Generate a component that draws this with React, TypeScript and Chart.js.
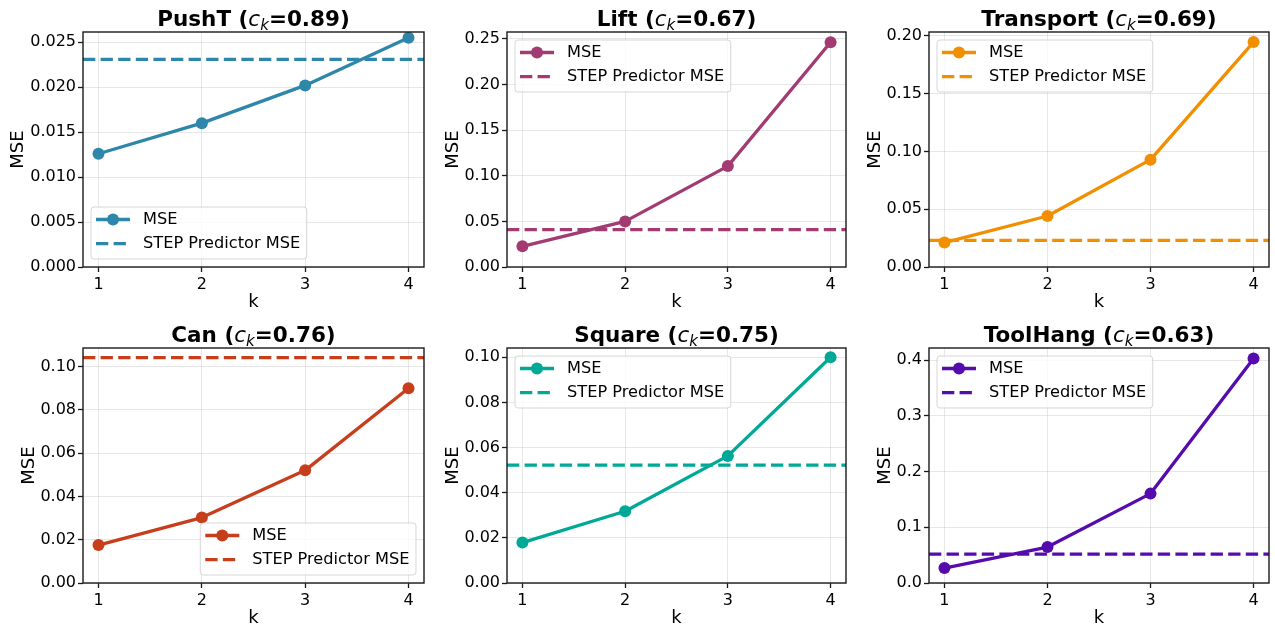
import React, { useEffect, useRef } from 'react';
import { Chart, registerables } from 'chart.js';

Chart.register(...registerables);

// ---------- data ----------
const kValues = [1, 2, 3, 4];
const xTickValues = [1, 2, 3, 4];
const taskNames = ['PushT', 'Lift', 'Transport', 'Can', 'Square', 'ToolHang'];
const ckLabels = ['0.89', '0.67', '0.69', '0.76', '0.75', '0.63'];

const pushtMSE = [0.0126, 0.016, 0.0202, 0.0255];
const liftMSE = [0.0227, 0.05, 0.1106, 0.2464];
const transportMSE = [0.0211, 0.0441, 0.0928, 0.1945];
const canMSE = [0.0175, 0.0302, 0.052, 0.0899];
const squareMSE = [0.0179, 0.0318, 0.0563, 0.1];
const toolhangMSE = [0.0269, 0.0645, 0.1605, 0.403];

const stepPredictorMSE = [0.0231, 0.0409, 0.0231, 0.1041, 0.0522, 0.0519];

const pushtTicks = [0, 0.005, 0.01, 0.015, 0.02, 0.025];
const liftTicks = [0, 0.05, 0.1, 0.15, 0.2, 0.25];
const transportTicks = [0, 0.05, 0.1, 0.15, 0.2];
const canTicks = [0, 0.02, 0.04, 0.06, 0.08, 0.1];
const squareTicks = [0, 0.02, 0.04, 0.06, 0.08, 0.1];
const toolhangTicks = [0, 0.1, 0.2, 0.3, 0.4];
const tickDecimals = [3, 2, 2, 2, 2, 1];
const yMaxValues = [0.02614, 0.2576, 0.2032, 0.1085, 0.1041, 0.422];

const seriesList = [pushtMSE, liftMSE, transportMSE, canMSE, squareMSE, toolhangMSE];
const yTickList = [pushtTicks, liftTicks, transportTicks, canTicks, squareTicks, toolhangTicks];

// ---------- styling / layout ----------
const colors = ['#2E86AB', '#A23B72', '#F18F01', '#C73E1D', '#00A896', '#560BAD'];
const legendLocs = ['lower left', 'upper left', 'upper left', 'lower right', 'upper left', 'upper left'];

const FONT = '"DejaVu Sans", "Liberation Sans", sans-serif';
const TICK_SIZE = 16;
const LABEL_SIZE = 18;
const LEGEND_SIZE = 16.2;
const TITLE_SIZE = 21.5;

const W = 1275;
const H = 624;
const cellX = [0, 430, 852, 1275];
const cellY = [0, 312, 624];
const plotLeft = [83, 507, 929];
const plotRight = [428, 851, 1274];
const plotTop = [32, 348];
const plotBottom = [267, 583];
const Y_AXIS_W = 70;
const X_AXIS_H = 30;
const TICK_LEN = 5;
const Y_TICK_PAD = 2;
const SPINE = '#1a1a1a';

const decorPlugin = {
  id: 'panelDecor',
  afterDatasetsDraw(chart: any, _args: any, opts: any) {
    const { ctx, chartArea: a, scales } = chart;
    const yv = scales.y.getPixelForValue(opts.stepValue);
    ctx.save();
    ctx.beginPath();
    ctx.rect(a.left, a.top, a.right - a.left, a.bottom - a.top);
    ctx.clip();
    ctx.strokeStyle = opts.color;
    ctx.lineWidth = 3.3;
    ctx.setLineDash([12.3, 5.3]);
    ctx.beginPath();
    ctx.moveTo(a.left, yv);
    ctx.lineTo(a.right, yv);
    ctx.stroke();
    ctx.restore();

    // frame (spines)
    ctx.save();
    ctx.strokeStyle = SPINE;
    ctx.lineWidth = 1.4;
    ctx.strokeRect(a.left, a.top, a.right - a.left, a.bottom - a.top);
    ctx.restore();
  },
  afterDraw(chart: any, _args: any, opts: any) {
    const { ctx, chartArea: a } = chart;
    const cx = (a.left + a.right) / 2;
    const cy = (a.top + a.bottom) / 2;

    // title with math subscript
    ctx.save();
    ctx.fillStyle = '#000';
    ctx.textBaseline = 'alphabetic';
    ctx.textAlign = 'left';
    const bold = `bold ${TITLE_SIZE}px ${FONT}`;
    const ital = `italic ${TITLE_SIZE}px ${FONT}`;
    const sub = `italic ${TITLE_SIZE * 0.7}px ${FONT}`;
    const segs = [
      { t: opts.name + ' (', f: bold, dy: 0 },
      { t: 'c', f: ital, dy: 0 },
      { t: 'k', f: sub, dy: TITLE_SIZE * 0.2 },
      { t: '=' + opts.ck + ')', f: bold, dy: 0 },
    ];
    let total = 0;
    const widths = segs.map((s) => {
      ctx.font = s.f;
      const w = ctx.measureText(s.t).width;
      total += w;
      return w;
    });
    let x = cx - total / 2;
    const base = a.top - 6.5;
    segs.forEach((s, i) => {
      ctx.font = s.f;
      ctx.fillText(s.t, x, base + s.dy);
      x += widths[i];
    });
    ctx.restore();

    // axis labels
    ctx.save();
    ctx.fillStyle = '#000';
    ctx.font = `${LABEL_SIZE}px ${FONT}`;
    ctx.textAlign = 'center';
    ctx.textBaseline = 'alphabetic';
    ctx.fillText('k', cx, a.bottom + 40);
    ctx.font = `${TICK_SIZE}px ${FONT}`;
    let maxW = 0;
    opts.tickLabels.forEach((t: string) => {
      maxW = Math.max(maxW, ctx.measureText(t).width);
    });
    const yLabelX = a.left - TICK_LEN - Y_TICK_PAD - maxW - 6.7;
    ctx.translate(yLabelX, cy);
    ctx.rotate(-Math.PI / 2);
    ctx.font = `${LABEL_SIZE}px ${FONT}`;
    ctx.fillText('MSE', 0, 0);
    ctx.restore();

    // legend
    ctx.save();
    ctx.font = `${LEGEND_SIZE}px ${FONT}`;
    const labels = ['MSE', 'STEP Predictor MSE'];
    const tw = Math.max(...labels.map((l) => ctx.measureText(l).width));
    const bw = 52 + tw + 6.5;
    const bh = 52;
    let bx = a.left + 8;
    let by = a.top + 8;
    if (opts.loc === 'lower left') {
      by = a.bottom - 8 - bh;
    } else if (opts.loc === 'lower right') {
      bx = a.right - 8 - bw;
      by = a.bottom - 8 - bh;
    }
    ctx.beginPath();
    ctx.roundRect(bx, by, bw, bh, 3);
    ctx.fillStyle = 'rgba(255,255,255,0.8)';
    ctx.fill();
    ctx.strokeStyle = 'rgba(204,204,204,0.8)';
    ctx.lineWidth = 1;
    ctx.stroke();

    const rows = [by + 12.5, by + 36.6];
    const hx0 = bx + 5;
    const hx1 = bx + 39;
    ctx.strokeStyle = opts.color;
    ctx.fillStyle = opts.color;
    ctx.lineWidth = 3.3;
    ctx.beginPath();
    ctx.moveTo(hx0, rows[0]);
    ctx.lineTo(hx1, rows[0]);
    ctx.stroke();
    ctx.beginPath();
    ctx.arc((hx0 + hx1) / 2, rows[0], 6, 0, Math.PI * 2);
    ctx.fill();
    ctx.setLineDash([12.3, 5.3]);
    ctx.beginPath();
    ctx.moveTo(hx0, rows[1]);
    ctx.lineTo(hx1, rows[1]);
    ctx.stroke();
    ctx.setLineDash([]);

    ctx.fillStyle = '#000';
    ctx.textAlign = 'left';
    ctx.textBaseline = 'middle';
    ctx.fillText(labels[0], bx + 52, rows[0] + 0.5);
    ctx.fillText(labels[1], bx + 52, rows[1] + 0.5);
    ctx.restore();
  },
};

function buildConfig(i: number): any {
  const col = i % 3;
  const row = Math.floor(i / 3);
  const color = colors[i];
  const ticks = yTickList[i];
  const dec = tickDecimals[i];
  return {
    type: 'line',
    data: {
      datasets: [
        {
          label: 'MSE',
          data: kValues.map((k, j) => ({ x: k, y: seriesList[i][j] })),
          borderColor: color,
          backgroundColor: color,
          borderWidth: 3.3,
          pointRadius: 6,
          pointBorderWidth: 0,
          pointBackgroundColor: color,
          pointBorderColor: color,
          borderJoinStyle: 'round',
          tension: 0,
          clip: false,
        },
      ],
    },
    options: {
      animation: false,
      responsive: false,
      devicePixelRatio: 1,
      events: [],
      layout: {
        padding: {
          left: plotLeft[col] - cellX[col] - Y_AXIS_W,
          right: cellX[col + 1] - plotRight[col],
          top: plotTop[row] - cellY[row],
          bottom: cellY[row + 1] - plotBottom[row] - X_AXIS_H,
        },
      },
      plugins: {
        legend: { display: false },
        tooltip: { enabled: false },
        title: { display: false },
        panelDecor: {
          stepValue: stepPredictorMSE[i],
          color,
          name: taskNames[i],
          ck: ckLabels[i],
          loc: legendLocs[i],
          tickLabels: ticks.map((t) => t.toFixed(dec)),
        },
      },
      scales: {
        x: {
          type: 'linear',
          min: 0.85,
          max: 4.15,
          afterFit: (s: any) => {
            s.height = X_AXIS_H;
          },
          afterBuildTicks: (s: any) => {
            s.ticks = xTickValues.map((v) => ({ value: v }));
          },
          ticks: {
            font: { family: FONT, size: TICK_SIZE },
            color: '#000',
            padding: 3.5,
            maxRotation: 0,
            callback: (v: any) => String(v),
          },
          grid: {
            color: 'rgba(176,176,176,0.3)',
            lineWidth: 1,
            drawTicks: true,
            tickLength: TICK_LEN,
            tickColor: SPINE,
            tickWidth: 1.3,
          },
          border: { display: false },
        },
        y: {
          type: 'linear',
          min: 0,
          max: yMaxValues[i],
          afterFit: (s: any) => {
            s.width = Y_AXIS_W;
          },
          afterBuildTicks: (s: any) => {
            s.ticks = ticks.map((v) => ({ value: v }));
          },
          ticks: {
            font: { family: FONT, size: TICK_SIZE },
            color: '#000',
            padding: Y_TICK_PAD,
            callback: (v: any) => Number(v).toFixed(dec),
          },
          grid: {
            color: 'rgba(176,176,176,0.3)',
            lineWidth: 1,
            drawTicks: true,
            tickLength: TICK_LEN,
            tickColor: SPINE,
            tickWidth: 1.3,
          },
          border: { display: false },
        },
      },
    },
    plugins: [decorPlugin],
  };
}

export default function App() {
  const refs = useRef<(HTMLCanvasElement | null)[]>([]);
  useEffect(() => {
    const charts = taskNames.map((_, i) => new Chart(refs.current[i] as HTMLCanvasElement, buildConfig(i)));
    return () => {
      charts.forEach((c) => c.destroy());
    };
  }, []);
  return (
    <div style={{ position: 'fixed', left: 0, top: 0, width: W, height: H, background: '#fff' }}>
      {taskNames.map((_, i) => {
        const col = i % 3;
        const row = Math.floor(i / 3);
        const w = cellX[col + 1] - cellX[col];
        const h = cellY[row + 1] - cellY[row];
        return (
          <canvas
            key={i}
            ref={(el) => {
              refs.current[i] = el;
            }}
            width={w}
            height={h}
            style={{ position: 'absolute', left: cellX[col], top: cellY[row], width: w, height: h }}
          />
        );
      })}
    </div>
  );
}
